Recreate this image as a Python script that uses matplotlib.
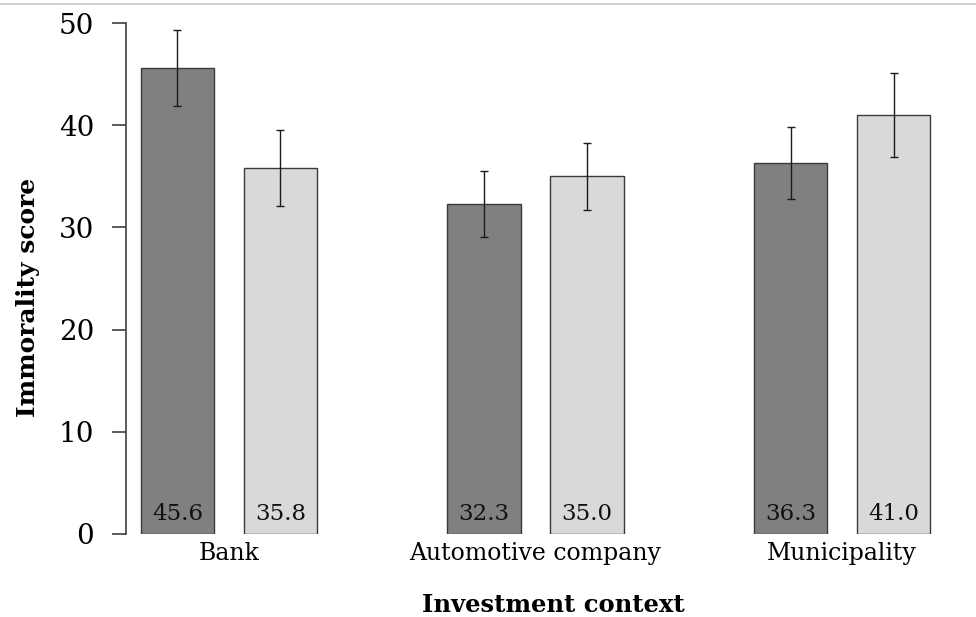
import numpy as np
import matplotlib
matplotlib.use("Agg")
import matplotlib.pyplot as plt
from matplotlib.lines import Line2D

# --- data ---
contexts = ["Bank", "Automotive company", "Municipality"]
dark_vals = [45.6, 32.3, 36.3]
light_vals = [35.8, 35.0, 41.0]
dark_err = [3.7, 3.2, 3.5]
light_err = [3.7, 3.3, 4.1]
y_ticks = [0, 10, 20, 30, 40, 50]

DARK = "#808080"
LIGHT = "#d9d9d9"
EDGE = "#3a3a3a"

plt.rcParams["font.family"] = ["DejaVu Serif"]

fig = plt.figure(figsize=(9.76, 6.17), dpi=100)
ax = fig.add_axes([126 / 976, 83 / 617, 850 / 976, 511 / 617])

x = np.arange(len(contexts))
off = 0.168
w = 0.241

ax.bar(x - off, dark_vals, w, color=DARK, edgecolor=EDGE, linewidth=1.0, zorder=2)
ax.bar(x + off, light_vals, w, color=LIGHT, edgecolor=EDGE, linewidth=1.0, zorder=2)

ax.errorbar(x - off, dark_vals, yerr=dark_err, fmt="none", ecolor="#1a1a1a",
            elinewidth=1.0, capsize=3, capthick=1.0, zorder=3)
ax.errorbar(x + off, light_vals, yerr=light_err, fmt="none", ecolor="#1a1a1a",
            elinewidth=1.0, capsize=3, capthick=1.0, zorder=3)

# value labels at the foot of each bar
for xs, vals in [(x - off, dark_vals), (x + off, light_vals)]:
    for xi, v in zip(xs, vals):
        ax.text(xi, 0.9, f"{v:.1f}", ha="center", va="bottom", fontsize=16.5,
                color="#111111", zorder=4)

ax.set_xlim(-0.336, 2.437)
ax.set_ylim(0, 50)
ax.set_yticks(y_ticks)
ax.set_yticklabels([str(t) for t in y_ticks], fontsize=20)
ax.tick_params(axis="y", length=10, width=1.2, color="#404040", pad=13, direction="out")

ax.set_xticks(x)
ax.set_xticklabels(contexts, fontsize=17)
ax.tick_params(axis="x", length=0, pad=6)

for s in ["top", "right", "bottom"]:
    ax.spines[s].set_visible(False)
ax.spines["left"].set_color("#404040")
ax.spines["left"].set_linewidth(1.2)

fig.text(28 / 976, 1 - 297 / 617, "Immorality score", rotation=90, ha="center", va="center",
         fontsize=18, fontweight="bold")
fig.text(553 / 976, 1 - 605 / 617, "Investment context", ha="center", va="center",
         fontsize=17.5, fontweight="bold")

# thin grey rule along the top edge
fig.add_artist(Line2D([0, 1], [1 - 4 / 617, 1 - 4 / 617], transform=fig.transFigure,
                      color="#c8c8c8", linewidth=1.2))

fig.savefig("out.png", dpi=100)
